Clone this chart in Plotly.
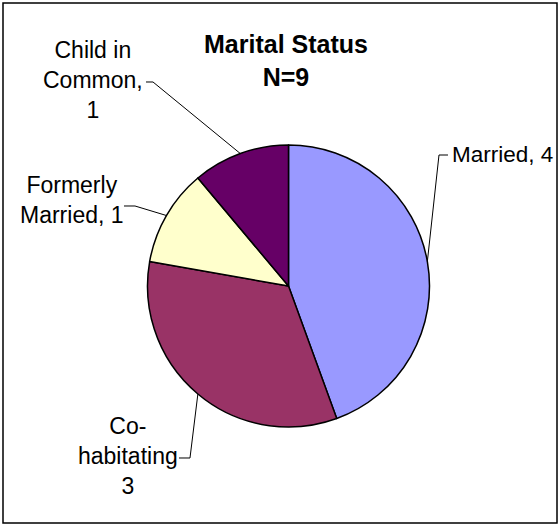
import numpy as np
import plotly.graph_objects as go

# ---- data ----
categories = ["Married", "Co-habitating", "Formerly Married", "Child in Common"]
values = [4, 3, 1, 1]
label_texts = ["Married, 4", "Co-<br>habitating<br>3", "Formerly<br>Married, 1", "Child in<br>Common,<br>1"]
colors = ["#9999FF", "#993366", "#FFFFCC", "#660066"]
title_text = "<b>Marital Status</b><br><b>N=9</b>"

# ---- layout geometry (pixels) ----
W, H = 559, 525
CX, CY, R = 288.5, 286.0, 141.0


def px(x):
    return x / W


def py(y):
    return 1 - y / H


fig = go.Figure()
fig.add_trace(go.Pie(
    labels=categories,
    values=values,
    sort=False,
    direction="clockwise",
    rotation=0,
    textinfo="none",
    hoverinfo="label+value",
    marker=dict(colors=colors, line=dict(color="#000000", width=1.5)),
    domain=dict(x=[px(CX - R), px(CX + R)], y=[py(CY + R), py(CY - R)]),
    showlegend=False,
))

# label placements (pixels): x, y, anchor, font size, leader elbow points
label_pos = [
    (450, 154, "left", 22.5, [(448, 155), (439, 155)]),
    (128, 456, "center", 23, [(179, 458), (190, 458)]),
    (72, 200, "center", 23, [(124, 206), (135, 206)]),
    (93, 80, "center", 23, [(146, 82), (153, 82)]),
]

total = float(sum(values))
cum = np.cumsum([0] + values)
shapes = []
annotations = []
for i, (lx, ly, anc, fs, elbow) in enumerate(label_pos):
    mid = (cum[i] + cum[i + 1]) / 2 / total * 2 * np.pi
    tx = CX + R * np.sin(mid)
    ty = CY - R * np.cos(mid)
    pts = elbow + [(tx, ty)]
    path = "M " + " L ".join(f"{px(x):.5f},{py(y):.5f}" for x, y in pts)
    shapes.append(dict(type="path", xref="paper", yref="paper", path=path,
                       line=dict(color="#000000", width=1)))
    annotations.append(dict(
        x=px(lx), y=py(ly), xref="paper", yref="paper",
        text=label_texts[i], showarrow=False,
        xanchor=anc, yanchor="middle", align="center",
        font=dict(family="Liberation Sans, Arial, sans-serif", size=fs, color="#000000"),
    ))

# chart border
shapes.append(dict(type="rect", xref="paper", yref="paper",
                   x0=px(3), x1=px(557), y0=py(523), y1=py(3),
                   line=dict(color="#000000", width=1.5)))

fig.update_layout(
    width=W, height=H,
    margin=dict(l=0, r=0, t=0, b=0),
    paper_bgcolor="#FFFFFF",
    plot_bgcolor="#FFFFFF",
    title=dict(text=title_text, x=px(286), y=py(53), xref="paper", yref="paper",
               xanchor="center", yanchor="middle",
               font=dict(family="Liberation Sans, Arial, sans-serif", size=25, color="#000000")),
    shapes=shapes,
    annotations=annotations,
)

fig.write_html("out.html", config={"displayModeBar": False},
               post_script="document.body.style.margin='0';")
